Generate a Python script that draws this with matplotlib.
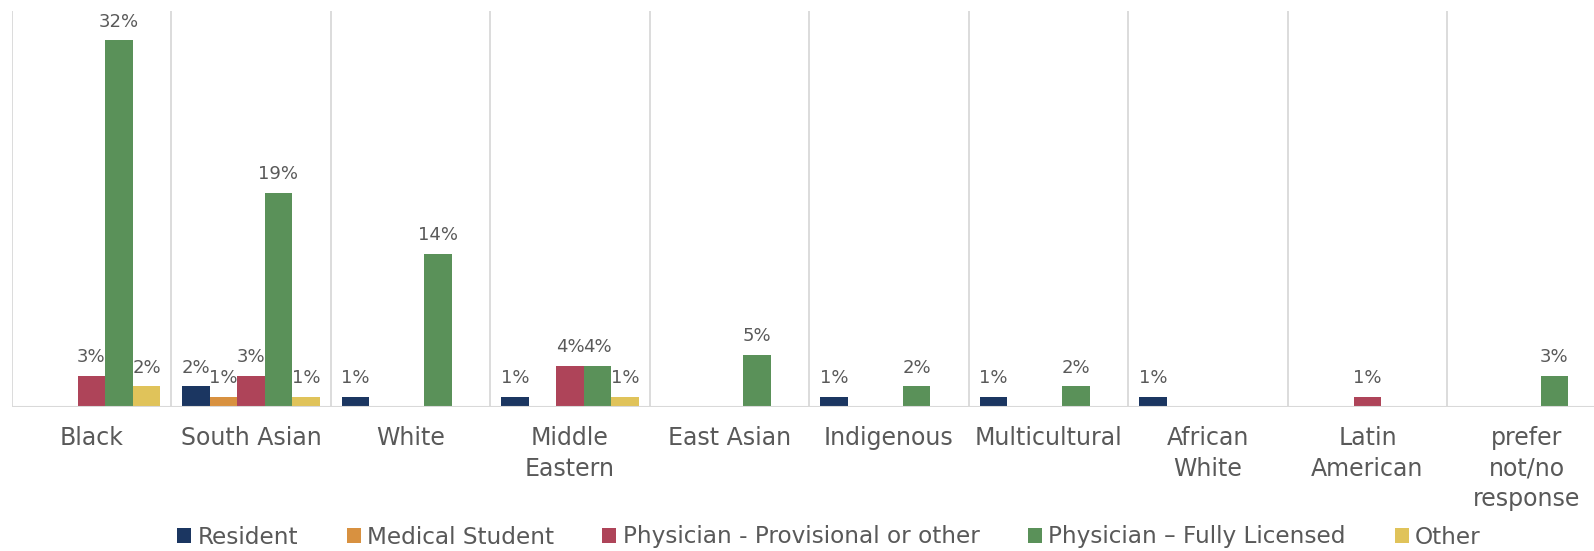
import numpy as np
import matplotlib
matplotlib.use("Agg")
import matplotlib.pyplot as plt
from matplotlib.patches import Patch

# categories along the x axis
categories = ['Black', 'South Asian', 'White', 'Middle\nEastern', 'East Asian',
              'Indigenous', 'Multicultural', 'African\nWhite', 'Latin\nAmerican',
              'prefer\nnot/no\nresponse']

# percentage of respondents per group (0 = no bar / no label)
resident = [0, 1.8, 0.9, 0.9, 0, 0.9, 0.9, 0.9, 0, 0]
medical_student = [0, 0.9, 0, 0, 0, 0, 0, 0, 0, 0]
physician_provisional = [2.7, 2.7, 0, 3.6, 0, 0, 0, 0, 0.9, 0]
physician_licensed = [32.4, 18.9, 13.5, 3.6, 4.6, 1.8, 1.8, 0, 0, 2.7]
other = [1.8, 0.9, 0, 0.9, 0, 0, 0, 0, 0, 0]

series_names = ['Resident', 'Medical Student', 'Physician - Provisional or other',
                'Physician \u2013 Fully Licensed', 'Other']
series_values = [resident, medical_student, physician_provisional,
                 physician_licensed, other]
colors = ['#1B3661', '#D89140', '#AE4459', '#5A9159', '#E0C35A']

text_color = '#595959'
grid_color = '#D9D9D9'

fig = plt.figure(figsize=(15.94, 5.51), dpi=100)
ax = fig.add_axes([11.7 / 1594, 144.3 / 551, 1595 / 1594, 395.7 / 551])

x = np.arange(len(categories))
bar_w = 0.1725
n = len(series_values)

for i, (vals, col) in enumerate(zip(series_values, colors)):
    vals = np.array(vals, dtype=float)
    pos = x + (i - (n - 1) / 2) * bar_w
    ax.bar(pos, vals, width=bar_w, color=col, zorder=2)
    for px, v in zip(pos, vals):
        if v > 0:
            ax.annotate('{:.0f}%'.format(v), (px, v), xytext=(0, 7),
                        textcoords='offset points', ha='center', va='bottom',
                        fontsize=13, color=text_color)

# category separators and baseline
ax.vlines(np.arange(len(categories) + 1) - 0.5, 0, 35, color=grid_color,
          lw=1.3, zorder=1)
ax.axhline(0, color=grid_color, lw=1.5, zorder=3)

ax.set_xlim(-0.5, len(categories) - 0.5)
ax.set_ylim(0, 35)
ax.set_yticks([])
ax.set_xticks(x)
ax.set_xticklabels(categories, fontsize=17, color=text_color, linespacing=1.35)
ax.tick_params(axis='x', length=0, pad=14)
for s in ax.spines.values():
    s.set_visible(False)

handles = [Patch(facecolor=c, label=l) for c, l in zip(colors, series_names)]
fig.legend(handles=handles, loc='center', bbox_to_anchor=(0.52, 14 / 551),
           ncol=5, frameon=False, fontsize=16.7, labelcolor=text_color,
           handlelength=0.6, handleheight=0.6, handletextpad=0.27,
           columnspacing=2.1, borderpad=0, borderaxespad=0)

plt.savefig('out.png', dpi=100)
